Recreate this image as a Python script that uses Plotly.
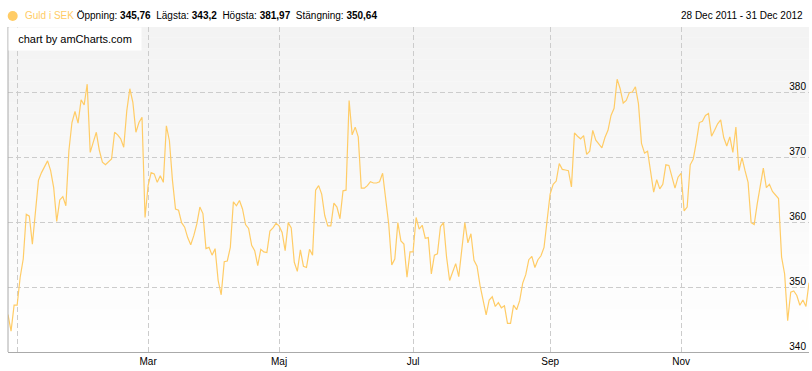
import pandas as pd
import plotly.graph_objects as go

start_date = "2011-12-28"
end_date = "2012-12-31"

gold_sek = [
    345.76, 343.2, 347.2, 347.2, 351.5, 354.3, 361.2, 360.9, 356.6, 361.7,
    366.4, 367.6, 368.5, 369.4, 367.9, 365.3, 360.1, 363.4, 363.9, 362.5,
    371.0, 375.3, 377.0, 375.2, 378.8, 378.0, 381.2, 370.7, 372.3, 373.8,
    371.0, 369.2, 368.8, 369.2, 369.7, 373.8, 373.4, 372.8, 371.5, 377.1,
    380.5, 378.4, 373.8, 375.3, 376.1, 360.7, 365.6, 367.6, 367.4, 366.1,
    367.1, 366.1, 374.8, 372.5, 366.4, 362.0, 361.8, 359.9, 359.2, 357.6,
    356.5, 357.9, 359.7, 362.3, 361.3, 355.9, 356.1, 354.9, 355.9, 351.0,
    348.8, 353.9, 354.0, 356.1, 363.1, 362.5, 363.3, 362.0, 359.6, 359.0,
    356.4, 355.6, 353.3, 355.8, 355.4, 355.3, 358.6, 359.1, 359.8, 359.4,
    358.4, 355.6, 359.9, 359.1, 353.8, 352.4, 355.7, 353.2, 353.0, 355.8,
    354.9, 364.9, 365.6, 364.3, 361.0, 359.4, 359.4, 362.9, 362.3, 360.5,
    364.8, 364.9, 378.7, 373.4, 374.6, 373.1, 365.2, 365.2, 365.6, 366.2,
    366.0, 366.0, 366.2, 367.5, 363.8, 359.7, 353.4, 354.3, 359.9, 357.1,
    356.6, 351.5, 355.4, 355.4, 360.7, 358.9, 359.5, 357.5, 357.6, 352.0,
    354.9, 355.1, 359.3, 359.9, 354.6, 351.0, 352.3, 353.6, 351.6, 355.8,
    359.9, 356.8, 358.2, 354.1, 353.2, 350.2, 347.9, 345.7, 348.0, 348.5,
    347.0, 347.6, 346.8, 347.1, 344.4, 344.4, 347.2, 346.5, 347.9, 350.6,
    351.9, 354.2, 354.7, 353.0, 354.2, 354.8, 356.1, 360.7, 364.3, 365.8,
    366.3, 369.0, 368.1, 368.0, 367.9, 365.4, 373.7, 373.2, 372.8, 373.3,
    370.4, 370.9, 374.1, 372.6, 372.0, 371.4, 373.0, 374.1, 376.4, 377.5,
    381.97, 380.5, 378.3, 378.7, 379.9, 380.0, 380.8, 378.2, 372.1, 370.6,
    370.9, 367.9, 364.6, 366.5, 365.1, 365.8, 368.8, 368.7, 366.9, 365.2,
    366.9, 367.5, 361.7, 362.3, 368.8, 369.7, 372.3, 375.3, 375.5, 376.4,
    376.7, 373.2, 374.1, 375.1, 375.7, 373.0, 371.7, 373.1, 370.7, 374.6,
    367.9, 369.9, 367.9, 366.1, 359.9, 359.6, 362.8, 365.8, 368.3, 365.3,
    365.8, 364.7, 364.2, 363.6, 354.6, 352.0, 344.8, 349.2, 349.4, 348.7,
    347.2, 348.0, 347.0, 350.64,
]

month_ticks = ["2012-01-02", "2012-03-01", "2012-05-01", "2012-07-02", "2012-09-03", "2012-11-01"]
month_labels = ["", "Mar", "Maj", "Jul", "Sep", "Nov"]
y_ticks = [340, 350, 360, 370, 380, 390]
y_labels = ["340", "350", "360", "370", "380", ""]

series_name = "Guld i SEK"
stats_labels = ["Öppning:", "Lägsta:", "Högsta:", "Stängning:"]
stats_values = ["345,76", "343,2", "381,97", "350,64"]
period_text = "28 Dec 2011 - 31 Dec 2012"

LINE = "#FFCC66"
FONT = "Arial, Liberation Sans, sans-serif"

dates = pd.bdate_range(start_date, end_date)

fig = go.Figure()
fig.add_trace(go.Scatter(
    x=dates, y=gold_sek, mode="lines", name=series_name,
    line=dict(color=LINE, width=1.2), hoverinfo="x+y",
))

# vertical gradient background (light grey top -> white bottom)
shapes = []
n = 30
for k in range(n):
    c = int(round(243 + (255 - 243) * (k / (n - 1))))
    shapes.append(dict(
        type="rect", xref="paper", yref="paper", x0=0, x1=1,
        y0=1 - (k + 1) / n, y1=1 - k / n, layer="below",
        fillcolor=f"rgb({c},{c},{c})", line=dict(width=0),
    ))
# left border
shapes.append(dict(type="line", xref="paper", yref="paper", x0=0, x1=0, y0=0, y1=1,
                   line=dict(color="#aaaaaa", width=1)))
# legend marker circle
shapes.append(dict(type="circle", xref="paper", yref="paper",
                   xsizemode="pixel", ysizemode="pixel",
                   xanchor=(12.7 - 8) / 801, yanchor=(352 - 16) / 325,
                   x0=-5, x1=5, y0=-5, y1=5,
                   fillcolor=LINE, line=dict(width=0)))

header = (f"<span style='color:{LINE}'>{series_name}</span> "
          + "  ".join(f"{l} <b>{v}</b>" for l, v in zip(stats_labels, stats_values)))

annotations = [
    dict(xref="paper", yref="paper", x=(22.5 - 8) / 801, y=(352 - 16) / 325,
         xanchor="left", yanchor="middle", showarrow=False, text=header,
         font=dict(family=FONT, size=10, color="#000000")),
    dict(xref="paper", yref="paper", x=(805 - 8) / 801, y=(352 - 16) / 325,
         xanchor="right", yanchor="middle", showarrow=False, text=period_text,
         font=dict(family=FONT, size=10, color="#000000")),
    dict(xref="paper", yref="paper", x=0, y=1, xanchor="left", yanchor="top",
         showarrow=False, text="chart by amCharts.com", width=130, height=20,
         bgcolor="#ffffff", align="center",
         font=dict(family=FONT, size=11, color="#000000")),
]

fig.update_layout(
    width=812, height=371,
    margin=dict(l=8, r=3, t=27, b=19),
    paper_bgcolor="#ffffff", plot_bgcolor="rgba(0,0,0,0)",
    showlegend=False,
    shapes=shapes, annotations=annotations,
    font=dict(family=FONT, size=10, color="#000000"),
    xaxis=dict(
        range=[start_date, end_date],
        rangebreaks=[dict(bounds=["sat", "mon"])],
        tickmode="array", tickvals=month_ticks, ticktext=month_labels,
        showgrid=True, gridcolor="#cccccc", griddash="5px,3px", gridwidth=1,
        showline=True, linecolor="#aaaaaa", linewidth=1,
        ticks="", zeroline=False,
        tickfont=dict(family=FONT, size=10, color="#000000"),
    ),
    yaxis=dict(
        range=[340, 390], side="right", ticklabelposition="inside",
        tickmode="array", tickvals=y_ticks, ticktext=y_labels,
        ticklabelshift=-6,
        showgrid=True, gridcolor="#cccccc", griddash="5px,3px", gridwidth=1,
        showline=False, ticks="", zeroline=False,
        tickfont=dict(family=FONT, size=10, color="#000000"),
    ),
)

fig.write_html("out.html", config={"displayModeBar": False},
               post_script="document.body.style.margin='0';")
